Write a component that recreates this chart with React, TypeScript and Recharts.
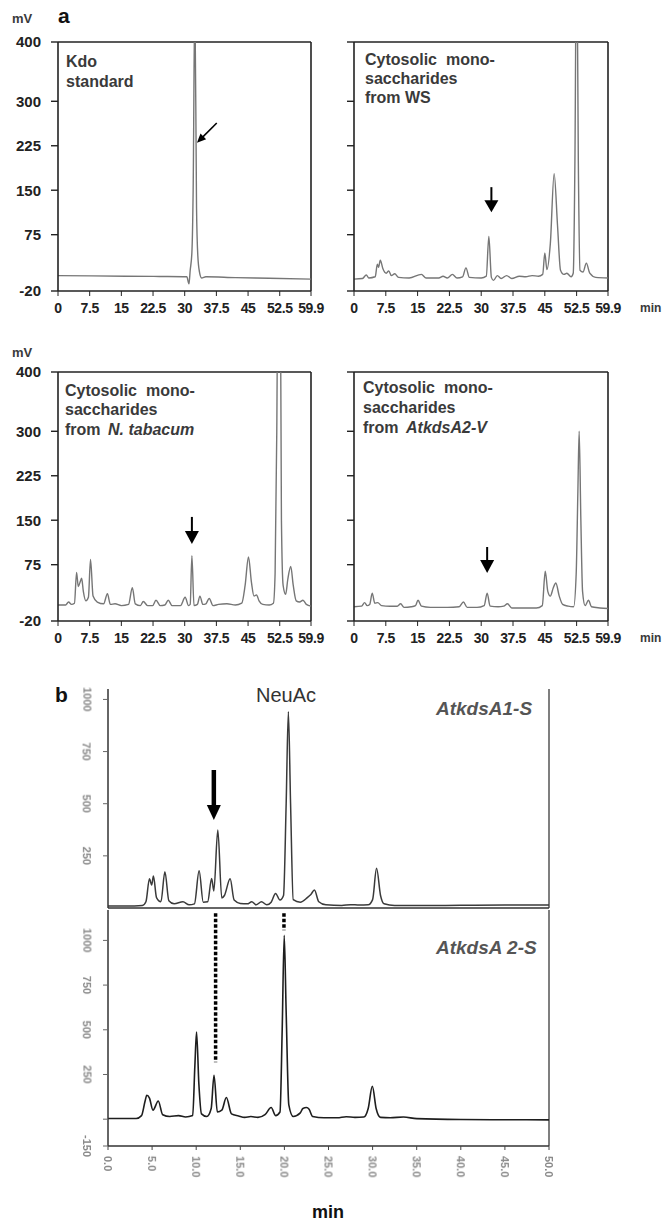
import React from "react";
import { LineChart, Line, XAxis, YAxis, ReferenceLine, ReferenceDot } from "recharts";

type Pt = [number, number];

const FONT = "'Liberation Sans', Arial, sans-serif";

// panel a: retention time (min) vs detector signal (mV)
const kdoStandard: Pt[] = [
  [0, 6], [8, 5.5], [16, 5], [24, 4.5], [30.5, 4], [31.0, -8], [31.3, 15], [31.7, 45],
  [32.0, 150], [32.4, 480], [32.8, 120], [33.1, 40], [33.5, 12], [34.0, 2], [35, 4],
  [42, 2.5], [50, 1.5], [59.9, 0],
];

const wsCytosol: Pt[] = [
  [0, 0], [2, 1], [2.9, 7], [3.5, 2], [5.0, 4], [5.5, 25], [5.8, 20], [6.2, 32], [6.8, 18],
  [7.6, 10], [8.2, 14], [8.8, 6], [9.6, 9], [10.5, 3], [13, 2], [15.9, 8], [17, 2], [20, 2],
  [21, 5], [22, 2], [23.2, 8], [24.3, 2], [25.6, 4], [26.4, 19], [27.2, 3], [30, 2], [31.2, 5],
  [31.8, 72], [32.4, 3], [32.9, -2], [33.8, 6], [34.7, 1], [36, 6], [37.2, 1], [39, 5],
  [40.5, 4], [42, 6], [43.5, 5], [44.5, 8], [45.0, 44], [45.5, 16], [46.3, 60], [47.2, 178],
  [48.0, 90], [48.7, 15], [49.5, 8], [50.2, 10], [51.2, 4], [51.7, 10], [52.1, 200],
  [52.5, 600], [52.9, 200], [53.3, 15], [54.0, 12], [54.8, 27], [55.6, 10], [57, 3], [59.9, 2],
];

const tabacumCytosol: Pt[] = [
  [0, 7], [1.8, 7], [2.5, 12], [3.2, 8], [3.9, 10], [4.4, 62], [4.8, 38], [5.2, 45], [5.6, 52],
  [6.0, 30], [6.6, 14], [7.2, 20], [7.7, 84], [8.3, 22], [9.3, 12], [10.8, 9], [11.7, 26],
  [12.4, 8], [13.5, 9], [15, 6], [16.7, 8], [17.6, 36], [18.3, 9], [19.5, 6], [20.2, 13],
  [21.2, 6], [22.4, 6], [23.2, 15], [24.2, 6], [25.3, 7], [26.1, 15], [27, 6], [29, 6],
  [30.1, 20], [30.9, 6], [31.3, 8], [31.7, 90], [32.2, 6], [33.0, 8], [33.6, 22], [34.3, 8],
  [35.0, 9], [35.8, 18], [36.7, 6], [38, 8], [40, 9], [42, 7], [43.5, 10], [44.3, 40],
  [45.1, 88], [45.8, 45], [46.4, 22], [47.0, 24], [47.6, 14], [48.5, 8], [50, 7], [51.0, 10],
  [51.4, 60], [51.8, 300], [52.1, 600], [52.6, 600], [52.9, 150], [53.3, 40], [53.9, 25],
  [54.4, 50], [55.1, 72], [55.7, 40], [56.4, 14], [57.2, 12], [58.0, 15], [58.8, 8], [59.9, 5],
];

const kdsA2VCytosol: Pt[] = [
  [0, 4], [1.8, 5], [2.5, 11], [3.1, 6], [3.7, 8], [4.3, 27], [4.9, 10], [5.6, 11], [6.5, 6],
  [8.5, 5], [10.2, 5], [11.0, 9], [11.8, 3], [13.5, 4], [14.5, 6], [15.1, 15], [15.9, 5],
  [18, 3], [22, 3], [24.8, 4], [25.8, 12], [26.7, 3], [29, 3], [30.7, 6], [31.4, 27],
  [32.1, 5], [34, 4], [35.3, 5], [36.2, 9], [37.2, 2], [40, 2], [43, 2], [44.4, 6], [45.1, 64],
  [45.7, 30], [46.3, 22], [47.0, 36], [47.6, 44], [48.4, 22], [49.2, 8], [50.5, 5], [51.8, 4],
  [52.4, 60], [52.8, 200], [53.1, 300], [53.5, 150], [53.9, 30], [54.5, 6], [55.3, 15],
  [56.0, 4], [58, 2], [59.9, 1],
];

// panel b: AtkdsA1-S (upper) and AtkdsA2-S (lower)
const kdsA1S: Pt[] = [
  [0, 10], [3, 10], [3.9, 12], [4.3, 30], [4.7, 140], [4.95, 110], [5.15, 153], [5.5, 50],
  [6.0, 30], [6.45, 174], [6.9, 35], [7.5, 20], [8.5, 30], [9.2, 15], [9.8, 20], [10.33, 178],
  [10.8, 28], [11.3, 30], [11.75, 142], [12.0, 82], [12.45, 374], [12.9, 48], [13.2, 60],
  [13.85, 140], [14.3, 38], [15.0, 22], [15.8, 20], [16.3, 30], [16.8, 15], [17.4, 30],
  [18.0, 15], [18.5, 28], [19.0, 70], [19.5, 38], [19.9, 60], [20.2, 500], [20.45, 941],
  [20.7, 500], [21.0, 40], [21.8, 28], [22.6, 50], [23.0, 65], [23.4, 86], [23.9, 30],
  [24.7, 15], [26.5, 12], [27.5, 16], [28.5, 14], [29.5, 15], [30.0, 40], [30.45, 190],
  [30.9, 60], [31.3, 20], [32.5, 12], [35, 12], [40, 13], [45, 14], [50, 14],
];

const kdsA2S: Pt[] = [
  [0, 4], [3.2, 4], [3.8, 20], [4.2, 100], [4.4, 134], [4.7, 118], [5.1, 50], [5.7, 102],
  [6.2, 25], [7.0, 15], [8.0, 20], [8.8, 12], [9.6, 20], [9.85, 300], [10.04, 488], [10.3, 200],
  [10.6, 30], [11.2, 15], [11.7, 60], [12.02, 246], [12.4, 40], [12.9, 50], [13.42, 121],
  [14.0, 30], [14.8, 18], [15.5, 10], [16.2, 15], [17.0, 10], [17.8, 25], [18.5, 65], [19.0, 20],
  [19.5, 40], [19.75, 500], [19.98, 1029], [20.2, 600], [20.5, 80], [21.0, 15], [21.8, 35],
  [22.1, 60], [22.5, 65], [22.8, 55], [23.2, 15], [24.5, 8], [26, 8], [27, 14], [28, 10],
  [29.0, 12], [29.5, 60], [29.97, 184], [30.4, 60], [30.9, 10], [32, 8], [33.5, 12], [35, 3],
  [40, -2], [45, -3], [50, -4],
];

const aTimeTicks = [0, 7.5, 15, 22.5, 30, 37.5, 45, 52.5, 59.9];
const aMvTicks = [-20, 75, 150, 225, 300, 400];
const bTimeTicks = [0, 5, 10, 15, 20, 25, 30, 35, 40, 45, 50];
const bUpperTicks = [250, 500, 750, 1000];
const bLowerTicks = [-150, 0, 250, 500, 750, 1000];

const toRows = (pts: Pt[]) => pts.map(([t, v]) => ({ t, v }));

function Arrow(p: any) {
  const { cx, cy, len, head, wide, shaft, angle = 0 } = p;
  return (
    <g transform={`rotate(${angle} ${cx} ${cy})`}>
      <line x1={cx} y1={cy - len} x2={cx} y2={cy - head + 1} stroke="#000" strokeWidth={shaft} />
      <polygon points={`${cx - wide / 2},${cy - head} ${cx + wide / 2},${cy - head} ${cx},${cy}`} fill="#000" />
    </g>
  );
}

const arrowDot = (opts: any) => (p: any) => <Arrow cx={p.cx} cy={p.cy} {...opts} />;

const axisA = { stroke: "#222", strokeWidth: 1.6 };
const tickA = { fontSize: 14, fontWeight: 700, fill: "#222", fontFamily: FONT, letterSpacing: -0.4 };
const tickAY = { fontSize: 15, fontWeight: 700, fill: "#222", fontFamily: FONT };

function PanelA(props: { left: number; top: number; w: number; data: Pt[]; labels: boolean; arrow: any; tip: Pt }) {
  const { left, top, w, data, labels, arrow, tip } = props;
  const h = 249;
  return (
    <div style={{ position: "absolute", left: left - 60, top: top - 10 }}>
      <LineChart width={w + 90} height={h + 50} data={toRows(data)} margin={{ top: 10, right: 30, bottom: 0, left: 0 }}>
        <XAxis type="number" dataKey="t" domain={[0, 59.9]} ticks={aTimeTicks} interval={0} height={40}
          axisLine={axisA} tickLine={{ stroke: "#222" }} tickSize={5} tickMargin={7} tick={tickA} />
        <YAxis type="number" domain={[-20, 400]} ticks={aMvTicks} interval={0} width={60} allowDataOverflow
          axisLine={axisA} tickLine={{ stroke: "#222", strokeWidth: 1.4 }} tickSize={7} tickMargin={10}
          tick={tickAY} tickFormatter={(v: number) => (labels ? String(v) : "")} />
        <ReferenceLine y={400} stroke="#222" strokeWidth={1.6} />
        <ReferenceLine x={59.9} stroke="#222" strokeWidth={1.6} />
        <Line type="monotone" dataKey="v" stroke="#767676" strokeWidth={1.4} dot={false} activeDot={false} isAnimationActive={false} />
        <ReferenceDot x={tip[0]} y={tip[1]} r={1} shape={arrowDot(arrow)} />
      </LineChart>
    </div>
  );
}

const bTickStyle = { fontSize: 11, fontWeight: 700, fill: "#8a8a8a", fontFamily: FONT };

const RotY = (p: any) => {
  const v = p.payload.value;
  if (v === 0) return <g />;
  const cx = p.x - 14;
  return (
    <text x={cx} y={p.y} transform={`rotate(90 ${cx} ${p.y})`} textAnchor="middle" dominantBaseline="central" style={{ filter: "blur(0.5px)" }} {...bTickStyle}>
      {v}
    </text>
  );
};

const RotX = (p: any) => (
  <text x={p.x} y={p.y} transform={`rotate(90 ${p.x} ${p.y})`} textAnchor="start" dominantBaseline="central" style={{ filter: "blur(0.5px)" }} {...bTickStyle}>
    {Number(p.payload.value).toFixed(1)}
  </text>
);

const axisB = { stroke: "#333", strokeWidth: 1.5 };

function Text(props: { left: number; top: number; size: number; style?: any; children: any }) {
  const { left, top, size, style, children } = props;
  return (
    <div style={{ position: "absolute", left, top, fontSize: size, lineHeight: `${size + 2}px`, fontFamily: FONT, whiteSpace: "pre", ...style }}>
      {children}
    </div>
  );
}

const label = { fontWeight: 700, color: "#3a3a3a" };
const italic = { fontWeight: 700, color: "#3a3a3a", fontStyle: "italic" };

export default function App() {
  return (
    <div style={{ position: "absolute", left: 0, top: 0, width: 666, height: 1221, background: "#fff", overflow: "hidden" }}>
      <PanelA left={58} top={42} w={253} data={kdoStandard} labels tip={[32.9, 230]}
        arrow={{ len: 28, head: 9, wide: 8, shaft: 1.6, angle: 45 }} />
      <PanelA left={354} top={42} w={254} data={wsCytosol} labels={false} tip={[32.4, 113]}
        arrow={{ len: 25, head: 12, wide: 14, shaft: 2 }} />
      <PanelA left={58} top={372} w={253} data={tabacumCytosol} labels tip={[31.7, 110]}
        arrow={{ len: 27, head: 13, wide: 14, shaft: 2 }} />
      <PanelA left={354} top={372} w={254} data={kdsA2VCytosol} labels={false} tip={[31.4, 61]}
        arrow={{ len: 26, head: 13, wide: 14, shaft: 2 }} />

      {/* panel b upper */}
      <div style={{ position: "absolute", left: 108 - 60, top: 689 - 10 }}>
        <LineChart width={441 + 70} height={219 + 50} data={toRows(kdsA1S)} margin={{ top: 10, right: 10, bottom: 0, left: 0 }}>
          <XAxis type="number" dataKey="t" domain={[0, 50]} ticks={bTimeTicks} height={40} axisLine={axisB} tick={false} tickLine={false} />
          <YAxis type="number" domain={[0, 1050]} ticks={bUpperTicks} interval={0} width={60} allowDataOverflow
            axisLine={axisB} tickLine={{ stroke: "#666" }} tickSize={5} tickMargin={2} tick={RotY} />
          <ReferenceLine x={50} stroke="#555" strokeWidth={1.5} />
          <Line type="monotone" dataKey="v" stroke="#3a3a3a" strokeWidth={1.5} dot={false} activeDot={false} isAnimationActive={false} />
          <ReferenceDot x={12.0} y={422} r={1} shape={arrowDot({ len: 50, head: 15, wide: 14, shaft: 4.5 })} />
        </LineChart>
      </div>

      {/* panel b lower */}
      <div style={{ position: "absolute", left: 108 - 60, top: 910 - 10 }}>
        <LineChart width={441 + 70} height={236 + 50} data={toRows(kdsA2S)} margin={{ top: 10, right: 10, bottom: 0, left: 0 }}>
          <XAxis type="number" dataKey="t" domain={[0, 50]} ticks={bTimeTicks} interval={0} height={40}
            axisLine={axisB} tickLine={{ stroke: "#444" }} tickSize={4} tickMargin={6} tick={RotX} />
          <YAxis type="number" domain={[-150, 1170]} ticks={bLowerTicks} interval={0} width={60} allowDataOverflow
            axisLine={axisB} tickLine={{ stroke: "#666" }} tickSize={5} tickMargin={2} tick={RotY} />
          <ReferenceLine x={50} stroke="#555" strokeWidth={1.5} />
          <Line type="monotone" dataKey="v" stroke="#1e1e1e" strokeWidth={1.6} dot={false} activeDot={false} isAnimationActive={false} />
          <ReferenceLine segment={[{ x: 12.2, y: 1152 }, { x: 12.2, y: 319 }]} stroke="#000" strokeWidth={3.5} strokeDasharray="3.5 2" ifOverflow="visible" />
          <ReferenceLine segment={[{ x: 19.95, y: 1152 }, { x: 19.95, y: 1057 }]} stroke="#000" strokeWidth={3.5} strokeDasharray="3.5 2" ifOverflow="visible" />
        </LineChart>
      </div>

      {/* panel a labels */}
      <Text left={12} top={11} size={13} style={label}>mV</Text>
      <Text left={58} top={4} size={21} style={{ fontWeight: 700, color: "#111" }}>a</Text>
      <Text left={12} top={345} size={13} style={label}>mV</Text>
      <Text left={640} top={301} size={12} style={label}>min</Text>
      <Text left={640} top={631} size={12} style={label}>min</Text>

      <Text left={66} top={53} size={16} style={label}>Kdo</Text>
      <Text left={66} top={73} size={16} style={label}>standard</Text>

      <Text left={365} top={51} size={16} style={label}>Cytosolic  mono-</Text>
      <Text left={365} top={70} size={16} style={label}>saccharides</Text>
      <Text left={365} top={89} size={16} style={label}>from WS</Text>

      <Text left={65} top={382} size={16} style={label}>Cytosolic  mono-</Text>
      <Text left={65} top={401} size={16} style={label}>saccharides</Text>
      <Text left={65} top={421} size={16} style={label}>from</Text>
      <Text left={108} top={421} size={16} style={italic}>N. tabacum</Text>

      <Text left={363} top={379} size={16} style={label}>Cytosolic  mono-</Text>
      <Text left={363} top={399} size={16} style={label}>saccharides</Text>
      <Text left={363} top={419} size={16} style={label}>from</Text>
      <Text left={406} top={419} size={16} style={italic}>AtkdsA2-V</Text>

      {/* panel b labels */}
      <Text left={55} top={683} size={21} style={{ fontWeight: 700, color: "#111" }}>b</Text>
      <Text left={256} top={684} size={20} style={{ color: "#333" }}>NeuAc</Text>
      <Text left={436} top={698} size={19} style={{ fontWeight: 700, fontStyle: "italic", color: "#555" }}>AtkdsA1-S</Text>
      <Text left={436} top={937} size={19} style={{ fontWeight: 700, fontStyle: "italic", color: "#555" }}>AtkdsA 2-S</Text>
      <Text left={312} top={1202} size={18} style={{ fontWeight: 700, color: "#111" }}>min</Text>
    </div>
  );
}
